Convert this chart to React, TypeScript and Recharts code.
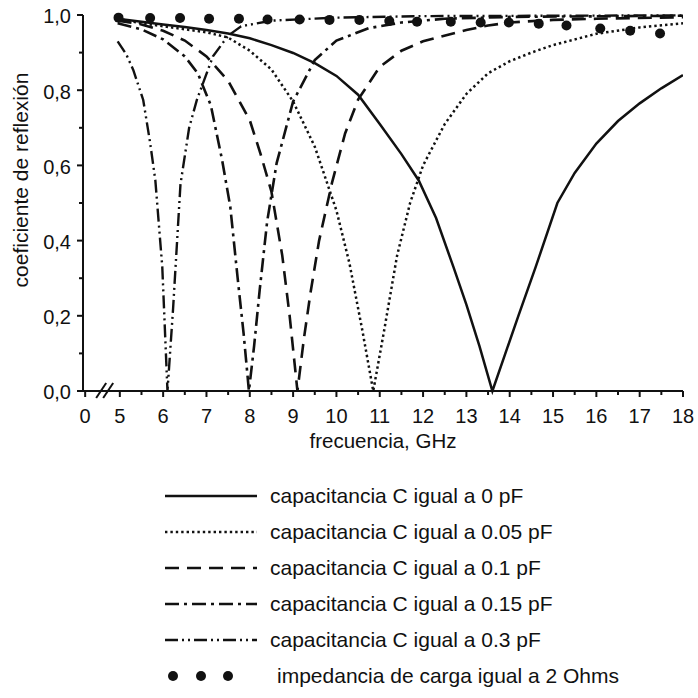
import React from 'react';
import { LineChart, Line, XAxis, YAxis, Legend, Label } from 'recharts';

// ---- data (frequency in GHz, reflection coefficient) ----
const c0pF = [
  { f: 4.95, r: 0.99 }, { f: 5.5, r: 0.982 }, { f: 6, r: 0.975 }, { f: 6.5, r: 0.968 },
  { f: 7, r: 0.96 }, { f: 7.5, r: 0.951 }, { f: 8, r: 0.938 }, { f: 8.5, r: 0.92 },
  { f: 9, r: 0.899 }, { f: 9.5, r: 0.872 }, { f: 10, r: 0.838 }, { f: 10.5, r: 0.788 },
  { f: 11, r: 0.71 }, { f: 11.5, r: 0.63 }, { f: 11.9, r: 0.56 }, { f: 12.3, r: 0.46 },
  { f: 12.7, r: 0.33 }, { f: 13.0, r: 0.23 }, { f: 13.3, r: 0.12 }, { f: 13.6, r: 0.0 },
  { f: 13.9, r: 0.1 }, { f: 14.2, r: 0.2 }, { f: 14.6, r: 0.33 }, { f: 15.1, r: 0.5 },
  { f: 15.5, r: 0.58 }, { f: 16, r: 0.658 }, { f: 16.5, r: 0.718 }, { f: 17, r: 0.765 },
  { f: 17.5, r: 0.805 }, { f: 18, r: 0.84 },
];

const c005pF = [
  { f: 4.95, r: 0.99 }, { f: 5.5, r: 0.978 }, { f: 6, r: 0.97 }, { f: 6.5, r: 0.962 },
  { f: 7, r: 0.954 }, { f: 7.5, r: 0.94 }, { f: 8, r: 0.905 }, { f: 8.5, r: 0.855 },
  { f: 9, r: 0.77 }, { f: 9.5, r: 0.65 }, { f: 10, r: 0.48 }, { f: 10.3, r: 0.34 },
  { f: 10.6, r: 0.16 }, { f: 10.85, r: 0.0 }, { f: 11.1, r: 0.16 }, { f: 11.4, r: 0.36 },
  { f: 11.7, r: 0.5 }, { f: 12, r: 0.6 }, { f: 12.5, r: 0.71 }, { f: 13, r: 0.79 },
  { f: 13.5, r: 0.845 }, { f: 14, r: 0.877 }, { f: 14.5, r: 0.9 }, { f: 15, r: 0.92 },
  { f: 16, r: 0.95 }, { f: 17, r: 0.967 }, { f: 18, r: 0.978 },
];

const c01pF = [
  { f: 4.95, r: 0.985 }, { f: 5.5, r: 0.975 }, { f: 6, r: 0.958 }, { f: 6.5, r: 0.932 },
  { f: 7, r: 0.89 }, { f: 7.5, r: 0.825 }, { f: 8, r: 0.72 }, { f: 8.25, r: 0.63 },
  { f: 8.5, r: 0.53 }, { f: 8.75, r: 0.36 }, { f: 8.92, r: 0.2 }, { f: 9.1, r: 0.0 },
  { f: 9.25, r: 0.14 }, { f: 9.4, r: 0.26 }, { f: 9.6, r: 0.4 }, { f: 9.9, r: 0.555 },
  { f: 10.2, r: 0.685 }, { f: 10.5, r: 0.775 }, { f: 11, r: 0.862 }, { f: 11.5, r: 0.905 },
  { f: 12, r: 0.93 }, { f: 13, r: 0.96 }, { f: 13.5, r: 0.972 }, { f: 14, r: 0.98 },
  { f: 15, r: 0.987 }, { f: 16, r: 0.99 }, { f: 18, r: 0.994 },
];

const c015pF = [
  { f: 4.95, r: 0.978 }, { f: 5.5, r: 0.962 }, { f: 6, r: 0.935 }, { f: 6.5, r: 0.89 },
  { f: 6.8, r: 0.845 }, { f: 7.1, r: 0.76 }, { f: 7.36, r: 0.615 }, { f: 7.55, r: 0.49 },
  { f: 7.72, r: 0.3 }, { f: 7.86, r: 0.15 }, { f: 7.98, r: 0.0 }, { f: 8.1, r: 0.12 },
  { f: 8.23, r: 0.27 }, { f: 8.4, r: 0.45 }, { f: 8.62, r: 0.606 }, { f: 9, r: 0.77 },
  { f: 9.5, r: 0.88 }, { f: 10, r: 0.932 }, { f: 10.75, r: 0.965 }, { f: 11.5, r: 0.98 },
  { f: 12.5, r: 0.99 }, { f: 14, r: 0.995 }, { f: 18, r: 0.998 },
];

const c03pF = [
  { f: 4.95, r: 0.93 }, { f: 5.15, r: 0.895 }, { f: 5.31, r: 0.854 }, { f: 5.54, r: 0.774 },
  { f: 5.7, r: 0.66 }, { f: 5.82, r: 0.56 }, { f: 5.98, r: 0.33 }, { f: 6.1, r: 0.0 },
  { f: 6.23, r: 0.22 }, { f: 6.4, r: 0.55 }, { f: 6.6, r: 0.7 }, { f: 6.78, r: 0.775 },
  { f: 7.15, r: 0.89 }, { f: 7.5, r: 0.945 }, { f: 7.8, r: 0.97 }, { f: 8.5, r: 0.985 },
  { f: 10, r: 0.993 }, { f: 12, r: 0.997 }, { f: 18, r: 0.999 },
];

const z2Ohm = [
  { f: 4.97, r: 0.993 }, { f: 5.7, r: 0.992 }, { f: 6.39, r: 0.992 }, { f: 7.06, r: 0.99 },
  { f: 7.75, r: 0.99 }, { f: 8.41, r: 0.988 }, { f: 9.15, r: 0.988 }, { f: 9.84, r: 0.987 },
  { f: 10.53, r: 0.987 }, { f: 11.22, r: 0.984 }, { f: 11.86, r: 0.982 }, { f: 12.64, r: 0.982 },
  { f: 13.33, r: 0.98 }, { f: 13.98, r: 0.98 }, { f: 14.67, r: 0.977 }, { f: 15.31, r: 0.972 },
  { f: 16.09, r: 0.964 }, { f: 16.78, r: 0.958 }, { f: 17.47, r: 0.951 },
];

const seriesNames = [
  'capacitancia C igual a 0 pF',
  'capacitancia C igual a 0.05 pF',
  'capacitancia C igual a 0.1 pF',
  'capacitancia C igual a 0.15 pF',
  'capacitancia C igual a 0.3 pF',
  'impedancia de carga igual a 2 Ohms',
];

// broken axis: the "0" label sits at 4.2 on the plotted scale
const xBreakValue = 4.2;
const xTicks = [4.2, 5, 5.5, 6, 6.5, 7, 7.5, 8, 8.5, 9, 9.5, 10, 10.5, 11, 11.5, 12, 12.5, 13, 13.5, 14, 14.5, 15, 15.5, 16, 16.5, 17, 17.5, 18];
const yTicks = [0, 0.1, 0.2, 0.3, 0.4, 0.5, 0.6, 0.7, 0.8, 0.9, 1.0];

const INK = '#111';
const FONT = '"Liberation Sans", Arial, sans-serif';

const styles = [
  { dash: undefined, width: 2.5 },
  { dash: '2.4 3', width: 2.5 },
  { dash: '14 8', width: 2.6 },
  { dash: '14 5 3 5', width: 2.6 },
  { dash: '13 4 2 4 2 4', width: 2.4 },
];

const XTick = (props: any) => {
  const { x, y, payload } = props;
  const v = payload.value;
  const isBreak = Math.abs(v - xBreakValue) < 1e-6;
  const isMajor = isBreak || Math.abs(v - Math.round(v)) < 1e-6;
  const label = isBreak ? '0' : isMajor ? String(v) : '';
  return (
    <g>
      <line x1={x} y1={y} x2={x} y2={y + (isMajor ? 6 : 4)} stroke={INK} strokeWidth={2} />
      {label && (
        <text x={x} y={y + 32} textAnchor="middle" fontSize={20} fontFamily={FONT} fill={INK}>
          {label}
        </text>
      )}
      {isBreak && (
        <g stroke={INK} strokeWidth={2}>
          <line x1={x + 11} y1={y + 7} x2={x + 21} y2={y - 8} />
          <line x1={x + 18} y1={y + 7} x2={x + 28} y2={y - 8} />
        </g>
      )}
    </g>
  );
};

const YTick = (props: any) => {
  const { x, y, payload } = props;
  const v = payload.value;
  const major = Math.round(v * 10) % 2 === 0;
  return (
    <g>
      <line x1={x - (major ? 6 : 4)} y1={y} x2={x} y2={y} stroke={INK} strokeWidth={2} />
      {major && (
        <text x={x - 12} y={y} dy="0.42em" textAnchor="end" fontSize={20} fontFamily={FONT} fill={INK}>
          {v.toFixed(1).replace('.', ',')}
        </text>
      )}
    </g>
  );
};

const LegendContent = () => (
  <svg width={698} height={220} style={{ display: 'block' }}>
    {seriesNames.map((name, i) => {
      const y = 18 + i * 36;
      const isDots = i === 5;
      return (
        <g key={name}>
          {isDots ? (
            <g fill={INK}>
              <circle cx={173} cy={y} r={5} />
              <circle cx={201} cy={y} r={5} />
              <circle cx={228} cy={y} r={5} />
            </g>
          ) : (
            <line x1={165} y1={y} x2={257} y2={y} stroke={INK}
              strokeWidth={styles[i].width} strokeDasharray={styles[i].dash} />
          )}
          <text x={isDots ? 277 : 270} y={y} dy="0.33em" fontSize={21} fontFamily={FONT} fill={INK}>
            {name}
          </text>
        </g>
      );
    })}
  </svg>
);

const seriesData = [c0pF, c005pF, c01pF, c015pF, c03pF];

export default function App() {
  return (
    <div style={{ position: 'absolute', left: 0, top: 0, width: 698, height: 698, background: '#fff' }}>
      <LineChart width={698} height={698} margin={{ top: 15, right: 15, left: 0, bottom: 247 }}>
        <XAxis
          type="number"
          dataKey="f"
          domain={[4.15, 18]}
          ticks={xTicks}
          interval={0}
          allowDataOverflow
          tickSize={0}
          tickMargin={0}
          tickLine={false}
          axisLine={{ stroke: INK, strokeWidth: 2 }}
          tick={<XTick />}
          height={60}
        >
          <Label
            content={() => (
              <text x={383} y={448} textAnchor="middle" fontSize={20.5} fontFamily={FONT} fill={INK}>
                frecuencia, GHz
              </text>
            )}
          />
        </XAxis>
        <YAxis
          type="number"
          domain={[0, 1]}
          ticks={yTicks}
          interval={0}
          width={83}
          tickSize={0}
          tickMargin={0}
          tickLine={false}
          axisLine={{ stroke: INK, strokeWidth: 2 }}
          tick={<YTick />}
        >
          <Label
            content={() => (
              <text x={28} y={180} transform="rotate(-90 28 180)" textAnchor="middle" fontSize={21} fontFamily={FONT} fill={INK}>
                coeficiente de reflexión
              </text>
            )}
          />
        </YAxis>
        {seriesData.map((d, i) => (
          <Line
            key={seriesNames[i]}
            data={d}
            dataKey="r"
            name={seriesNames[i]}
            type="linear"
            stroke={INK}
            strokeWidth={styles[i].width}
            strokeDasharray={styles[i].dash}
            dot={false}
            activeDot={false}
            isAnimationActive={false}
          />
        ))}
        <Line
          data={z2Ohm}
          dataKey="r"
          name={seriesNames[5]}
          stroke="none"
          dot={{ r: 5, fill: INK, stroke: 'none' }}
          activeDot={false}
          isAnimationActive={false}
        />
        <Legend
          layout="vertical"
          align="center"
          verticalAlign="middle"
          wrapperStyle={{ position: 'absolute', top: 478, left: 0, width: 698, height: 220 }}
          content={<LegendContent />}
        />
      </LineChart>
    </div>
  );
}
